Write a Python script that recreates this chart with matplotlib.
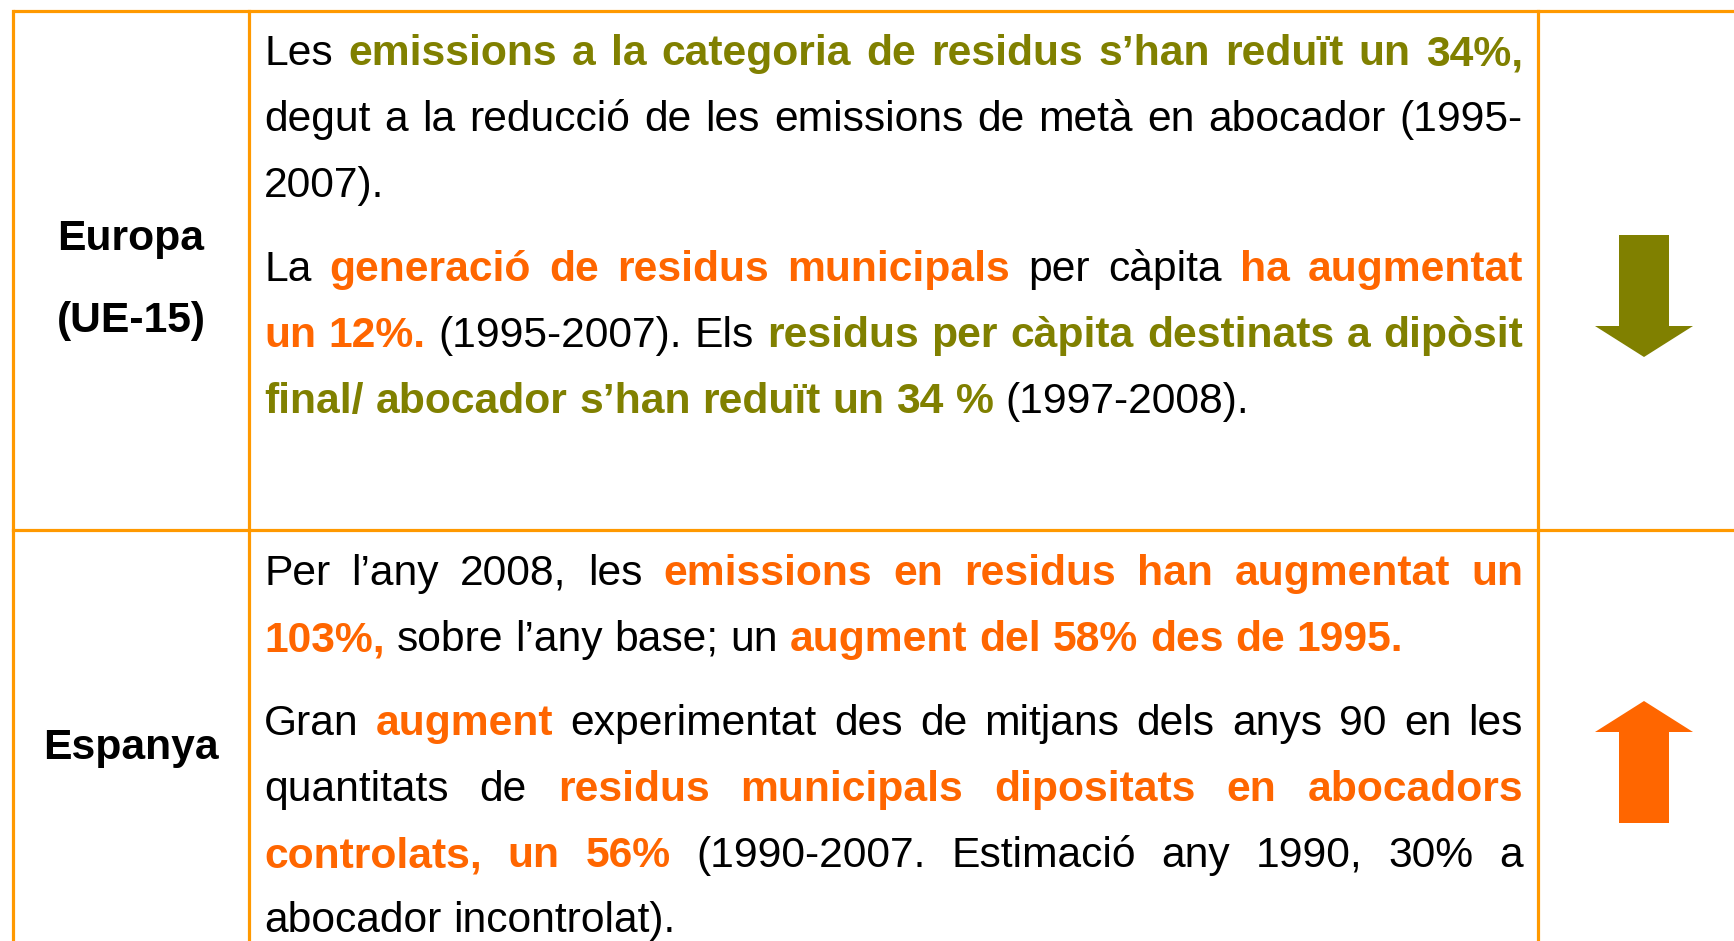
import matplotlib
matplotlib.use("Agg")
import matplotlib.pyplot as plt
from matplotlib.patches import Polygon

# Colors
BORDER = "#FF9900"
OLIVE = "#808000"
ORANGE = "#FF6600"
BLACK = "#000000"

# Row labels
row_labels = [["Europa", "(UE-15)"], ["Espanya"]]
label_baselines = [[250, 332], [759]]

# Text of each line: list of (text, style) ; style n = normal, o = bold olive, r = bold orange
# plus whether the line is justified
row1_lines = [
    ([("Les", "n"), ("emissions a la categoria de residus s’han reduït un 34%,", "o")], True),
    ([("degut a la reducció de les emissions de metà en abocador (1995-", "n")], True),
    ([("2007).", "n")], False),
    ([("La", "n"), ("generació de residus municipals", "r"), ("per càpita", "n"),
      ("ha augmentat", "r")], True),
    ([("un 12%.", "r"), ("(1995-2007). Els", "n"),
      ("residus per càpita destinats a dipòsit", "o")], True),
    ([("final/ abocador s’han reduït un 34 %", "o"), ("(1997-2008).", "n")], False),
]
row1_baselines = [65, 131, 197, 281, 347, 413]

row2_lines = [
    ([("Per l’any 2008, les", "n"), ("emissions en residus han augmentat un", "r")], True),
    ([("103%,", "r"), ("sobre l’any base; un", "n"), ("augment del 58% des de 1995.", "r")], False),
    ([("Gran", "n"), ("augment", "r"),
      ("experimentat des de mitjans dels anys 90 en les", "n")], True),
    ([("quantitats de", "n"), ("residus municipals dipositats en abocadors", "r")], True),
    ([("controlats, un 56%", "r"), ("(1990-2007. Estimació any 1990, 30% a", "n")], True),
    ([("abocador incontrolat).", "n")], False),
]
row2_baselines = [585, 651, 735, 801, 867, 932]

# arrows: direction per row
arrow_dirs = ["down", "up"]
arrow_colors = [OLIVE, ORANGE]

W, H = 1734, 941
fig = plt.figure(figsize=(W / 100, H / 100), dpi=100)
ax = fig.add_axes([0, 0, 1, 1])
ax.set_xlim(0, W)
ax.set_ylim(H, 0)
ax.axis("off")

plt.rcParams["font.family"] = ["Liberation Sans", "DejaVu Sans"]
FS = 30.7

# table grid
lw = 2.3
x_left, x_col1, x_col2 = 13, 249, 1538
y_top, y_mid = 11, 530
ax.plot([x_left, W], [y_top, y_top], color=BORDER, lw=lw, solid_capstyle="butt")
ax.plot([x_left, W], [y_mid, y_mid], color=BORDER, lw=lw)
for x in [x_left, x_col1, x_col2]:
    ax.plot([x, x], [y_top, H], color=BORDER, lw=lw)

renderer = fig.canvas.get_renderer()
styles = {
    "n": dict(color=BLACK, weight="normal"),
    "o": dict(color=OLIVE, weight="bold"),
    "r": dict(color=ORANGE, weight="bold"),
}


def width_of(s, weight):
    t = ax.text(0, 0, s, fontsize=FS, fontweight=weight)
    w = t.get_window_extent(renderer).width
    t.remove()
    return w


space_w = width_of("a a", "normal") - width_of("aa", "normal")

x0, x1 = 264, 1523


def draw_line(runs, justified, y):
    words = []
    for s, st in runs:
        for w in s.split(" "):
            words.append((w, st))
    widths = [width_of(w, styles[st]["weight"]) for w, st in words]
    if justified and len(words) > 1:
        gap = (x1 - x0 - sum(widths)) / (len(words) - 1)
    else:
        gap = space_w
    x = x0
    for (w, st), wd in zip(words, widths):
        ax.text(x, y, w, fontsize=FS, fontweight=styles[st]["weight"],
                color=styles[st]["color"], ha="left", va="baseline")
        x += wd + gap


for (runs, just), y in zip(row1_lines, row1_baselines):
    draw_line(runs, just, y)
for (runs, just), y in zip(row2_lines, row2_baselines):
    draw_line(runs, just, y)

# row labels
for labels, ys in zip(row_labels, label_baselines):
    for lab, y in zip(labels, ys):
        ax.text(131, y, lab, fontsize=FS, fontweight="bold", color=BLACK,
                ha="center", va="baseline")

# arrows
cx = 1644
shaft_half, head_half = 25, 49
arrow_tops = [235, 701]
for d, c, top in zip(arrow_dirs, arrow_colors, arrow_tops):
    if d == "down":
        pts = [(cx - shaft_half, top), (cx + shaft_half, top), (cx + shaft_half, top + 91),
               (cx + head_half, top + 91), (cx, top + 122), (cx - head_half, top + 91),
               (cx - shaft_half, top + 91)]
    else:
        pts = [(cx, top), (cx + head_half, top + 31), (cx + shaft_half, top + 31),
               (cx + shaft_half, top + 122), (cx - shaft_half, top + 122),
               (cx - shaft_half, top + 31), (cx - head_half, top + 31)]
    ax.add_patch(Polygon(pts, closed=True, facecolor=c, edgecolor="none"))

fig.savefig("out.png", dpi=100)
